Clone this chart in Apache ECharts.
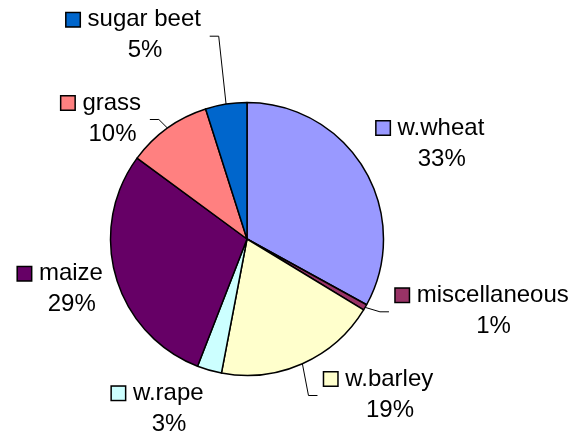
<!DOCTYPE html>
<html><head><meta charset="utf-8">
<script src="https://cdn.jsdelivr.net/npm/echarts@6/dist/echarts.min.js"></script>
<style>html,body{margin:0;padding:0;background:#fff}#c{width:576px;height:438px}</style>
</head><body><div id="c"></div>
<script>
const categories = ['w.wheat', 'miscellaneous', 'w.barley', 'w.rape', 'maize', 'grass', 'sugar beet'];
const values = [33.0, 0.7, 19.3, 2.9, 29.2, 10.0, 4.9];
const colors = ['#9999FF', '#993366', '#FFFFCC', '#CCFFFF', '#660066', '#FF8080', '#0066CC'];

// ---- layout / style (not data) ----
const FONT = '"Liberation Sans", Arial, sans-serif';
const FS = 24;
const CX = 247, CY = 239, R = 136.5;
const SQ = 13, GAP = 8, PAD = SQ + 1.5 + GAP;
const labelAnchors = {
  'w.wheat': [441.7, 143.5], 'miscellaneous': [493.5, 310.8], 'w.barley': [390, 394.5],
  'w.rape': [169, 408.8], 'maize': [71.7, 289.2], 'grass': [112.5, 118.5], 'sugar beet': [145, 35.2]
};
const leaderSide = { 'miscellaneous': 'left', 'w.barley': 'left', 'grass': 'right', 'sugar beet': 'right' };

const cv = document.createElement('canvas').getContext('2d');
cv.font = FS + 'px ' + FONT;
function measure(t) { return cv.measureText(t).width; }

const total = values.reduce((a, b) => a + b, 0);
function midAngle(i) {
  let s = 0; for (let k = 0; k < i; k++) s += values[k];
  return (s + values[i] / 2) / total * 2 * Math.PI; // clockwise from top
}

const rich = {
  n: { fontSize: FS, fontFamily: FONT, color: '#000', lineHeight: 31, verticalAlign: 'middle' },
  p: { fontSize: FS, fontFamily: FONT, color: '#000', lineHeight: 31, verticalAlign: 'middle' },
  gap: { width: GAP, height: 10 },
  pad: { width: PAD, height: 10 }
};
colors.forEach((c, i) => {
  rich['sq' + i] = { width: SQ, height: SQ, backgroundColor: c, borderColor: '#000', borderWidth: 1.5, verticalAlign: 'middle' };
});

const data = categories.map((name, i) => ({
  name: name, value: values[i],
  itemStyle: { color: colors[i] },
  labelLine: { show: !!leaderSide[name] }
}));

const chart = echarts.init(document.getElementById('c'), null, { renderer: 'canvas' });
chart.setOption({
  animation: false,
  backgroundColor: '#fff',
  series: [{
    type: 'pie',
    center: [CX, CY],
    radius: R,
    startAngle: 90,
    clockwise: true,
    avoidLabelOverlap: false,
    silent: true,
    data: data,
    itemStyle: { borderColor: '#000', borderWidth: 1.5 },
    emphasis: { disabled: true },
    label: {
      show: true,
      position: 'outside',
      formatter: p => '{sq' + p.dataIndex + '|}{gap|}{n|' + p.name + '}{pad|}\n{p|' + Math.round(p.percent) + '%}',
      rich: rich
    },
    labelLine: { show: true, length: 10, length2: 10, smooth: false, lineStyle: { color: '#000', width: 1 } },
    labelLayout: function (params) {
      const name = categories[params.dataIndex];
      const a = labelAnchors[name];
      const res = { x: a[0], y: a[1], align: 'center', verticalAlign: 'middle', hideOverlap: false, moveOverlap: null };
      const side = leaderSide[name];
      if (side) {
        const w = measure(name);
        const ang = midAngle(params.dataIndex);
        const p0 = [CX + R * Math.sin(ang), CY - R * Math.cos(ang)];
        const ly = a[1] + 1;
        let x2, x1;
        if (side === 'right') { x2 = a[0] + w / 2 + 8; x1 = x2 + 9; }
        else { x2 = a[0] - w / 2 - PAD - 6; x1 = x2 - 9; }
        res.labelLinePoints = [p0, [x1, ly], [x2, ly]];
      }
      return res;
    }
  }]
});
</script>
</body></html>
